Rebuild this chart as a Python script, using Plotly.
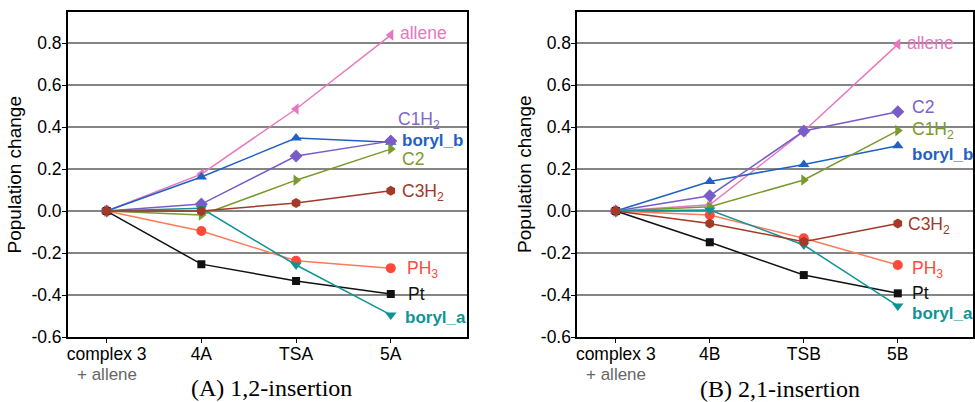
import plotly.graph_objects as go

# ---------------- data ----------------
cats_a = ["complex 3", "4A", "TSA", "5A"]
cats_b = ["complex 3", "4B", "TSB", "5B"]

# panel A (1,2-insertion)
a_allene  = [0.0, 0.176, 0.486, 0.838]
a_borylb  = [0.0, 0.162, 0.348, 0.328]
a_c1h2    = [0.0, 0.033, 0.262, 0.333]
a_c2      = [0.0, -0.019, 0.147, 0.295]
a_ph3     = [0.0, -0.095, -0.237, -0.272]
a_pt      = [0.0, -0.253, -0.333, -0.395]
a_boryla  = [0.0, 0.013, -0.257, -0.495]
a_c3h2    = [0.0, 0.0, 0.038, 0.097]

# panel B (2,1-insertion)
b_allene  = [0.0, 0.030, 0.380, 0.794]
b_c2      = [0.0, 0.073, 0.381, 0.473]
b_c1h2    = [0.0, 0.020, 0.148, 0.383]
b_borylb  = [0.0, 0.141, 0.222, 0.311]
b_ph3     = [0.0, -0.019, -0.130, -0.257]
b_pt      = [0.0, -0.149, -0.305, -0.392]
b_boryla  = [0.0, 0.005, -0.162, -0.452]
b_c3h2    = [0.0, -0.059, -0.146, -0.059]

y_ticks = [-0.6, -0.4, -0.2, 0.0, 0.2, 0.4, 0.6, 0.8]
y_ticktext = ["-0.6", "-0.4", "-0.2", "0.0", "0.2", "0.4", "0.6", "0.8"]

# ---------------- styles ----------------
C_ALLENE = "#e678c0"
C_BLUE = "#1f62c4"
C_PURPLE = "#7a5cc8"
C_OLIVE = "#7a9a2e"
C_RED = "#ff4a3a"
C_REDLINE = "#ff7a5a"
C_BLACK = "#111111"
C_TEAL = "#0f9495"
C_BROWN = "#a23a2a"

FONT = "Liberation Sans, Arial, sans-serif"
SERIF = "Liberation Serif, Times New Roman, serif"

fig = go.Figure()

def add_series(panel, cats, vals, color, symbol, linecolor=None, size=10):
    fig.add_trace(go.Scatter(
        x=list(range(len(cats))), y=vals, mode="lines+markers",
        line=dict(color=linecolor or color, width=1.5),
        marker=dict(color=color, symbol=symbol, size=size),
        xaxis="x" if panel == 1 else "x2", yaxis="y" if panel == 1 else "y2",
        showlegend=False, hoverinfo="skip"))

# panel A traces
add_series(1, cats_a, a_allene, C_ALLENE, "triangle-left")
add_series(1, cats_a, a_borylb, C_BLUE, "triangle-up")
add_series(1, cats_a, a_c1h2, C_PURPLE, "diamond")
add_series(1, cats_a, a_c2, C_OLIVE, "triangle-right")
add_series(1, cats_a, a_ph3, C_RED, "circle", C_REDLINE)
add_series(1, cats_a, a_pt, C_BLACK, "square", size=8)
add_series(1, cats_a, a_boryla, C_TEAL, "triangle-down")
add_series(1, cats_a, a_c3h2, C_BROWN, "hexagon")

# panel B traces
add_series(2, cats_b, b_allene, C_ALLENE, "triangle-left")
add_series(2, cats_b, b_borylb, C_BLUE, "triangle-up")
add_series(2, cats_b, b_c2, C_PURPLE, "diamond")
add_series(2, cats_b, b_c1h2, C_OLIVE, "triangle-right")
add_series(2, cats_b, b_ph3, C_RED, "circle", C_REDLINE)
add_series(2, cats_b, b_pt, C_BLACK, "square", size=8)
add_series(2, cats_b, b_boryla, C_TEAL, "triangle-down")
add_series(2, cats_b, b_c3h2, C_BROWN, "hexagon")

xrange = [-0.41, 3.8]
yrange = [-0.6, 0.948]

axis_common = dict(showline=True, linecolor="black", linewidth=1.5, mirror=True,
                   ticks="outside", ticklen=4, tickcolor="black",
                   tickfont=dict(family=FONT, size=17.5, color="black"),
                   zeroline=False)

grid = dict(showgrid=True, gridcolor="#858585", gridwidth=1.8)

fig.update_layout(
    width=975, height=402,
    margin=dict(l=0, r=0, t=12, b=65),
    paper_bgcolor="white", plot_bgcolor="white",
    xaxis=dict(domain=[67/975, 467/975], range=xrange, tickmode="array",
               tickvals=[0, 1, 2, 3], ticktext=cats_a, showgrid=False,
               ticklabelstandoff=-4, **axis_common),
    yaxis=dict(range=yrange, tickmode="array", tickvals=y_ticks, ticktext=y_ticktext,
               anchor="x", ticklabelstandoff=-3, **grid, **axis_common),
    xaxis2=dict(domain=[578/975, 1.0], range=xrange, tickmode="array",
                tickvals=[0, 1, 2, 3], ticktext=cats_b, showgrid=False, anchor="y2",
                ticklabelstandoff=-4, **axis_common),
    yaxis2=dict(range=yrange, tickmode="array", tickvals=y_ticks, ticktext=y_ticktext,
                anchor="x2", ticklabelstandoff=-3, **grid, **axis_common),
)

anns = []
def lab(xa, ya, x, y, text, color, bold=False):
    anns.append(dict(xref=xa, yref=ya, x=x, y=y, text=("<b>%s</b>" % text) if bold else text,
                     showarrow=False, xanchor="left", yanchor="middle",
                     font=dict(family=FONT, size=17 if bold else 17.5, color=color)))

# labels panel A
lab("x", "y", 3.08, 0.848, "allene", C_ALLENE)
lab("x", "y", 3.06, 0.43, "C1H<sub>2</sub>", "#8068cc")
lab("x", "y", 3.1, 0.338, "boryl_b", C_BLUE, True)
lab("x", "y", 3.1, 0.248, "C2", C_OLIVE)
lab("x", "y", 3.1, 0.09, "C3H<sub>2</sub>", C_BROWN)
lab("x", "y", 3.15, -0.28, "PH<sub>3</sub>", C_RED)
lab("x", "y", 3.16, -0.395, "Pt", C_BLACK)
lab("x", "y", 3.13, -0.505, "boryl_a", C_TEAL, True)

# labels panel B
lab("x2", "y2", 3.08, 0.8, "allene", C_ALLENE)
lab("x2", "y2", 3.13, 0.495, "C2", "#7a62cc")
lab("x2", "y2", 3.13, 0.385, "C1H<sub>2</sub>", C_OLIVE)
lab("x2", "y2", 3.13, 0.267, "boryl_b", C_BLUE, True)
lab("x2", "y2", 3.09, -0.067, "C3H<sub>2</sub>", C_BROWN)
lab("x2", "y2", 3.13, -0.277, "PH<sub>3</sub>", C_RED)
lab("x2", "y2", 3.13, -0.39, "Pt", C_BLACK)
lab("x2", "y2", 3.13, -0.486, "boryl_a", C_TEAL, True)

def ypaper(py):
    return (402 - 65 - py) / (402 - 77)

# "+ allene" second line of the first tick label
for xa in ["x", "x2"]:
    anns.append(dict(xref=xa, yref="paper", x=0, y=ypaper(374),
                     text="+ allene", showarrow=False,
                     xanchor="center", yanchor="middle",
                     font=dict(family=FONT, size=17, color="#666666")))

# y axis titles
for px in [14, 525]:
    anns.append(dict(xref="paper", yref="paper", x=px/975, y=0.5, text="Population change",
                     textangle=-90, showarrow=False, xanchor="center", yanchor="middle",
                     font=dict(family=FONT, size=19, color="black")))

# panel captions
anns.append(dict(xref="paper", yref="paper", x=271/975, y=ypaper(388), text="(A) 1,2-insertion",
                 showarrow=False, xanchor="center", yanchor="middle",
                 font=dict(family=SERIF, size=24, color="black")))
anns.append(dict(xref="paper", yref="paper", x=781/975, y=ypaper(389), text="(B) 2,1-insertion",
                 showarrow=False, xanchor="center", yanchor="middle",
                 font=dict(family=SERIF, size=24, color="black")))

fig.update_layout(annotations=anns)

fig.write_html("out.html", config={"displayModeBar": False},
               post_script="document.body.style.margin='0';")
